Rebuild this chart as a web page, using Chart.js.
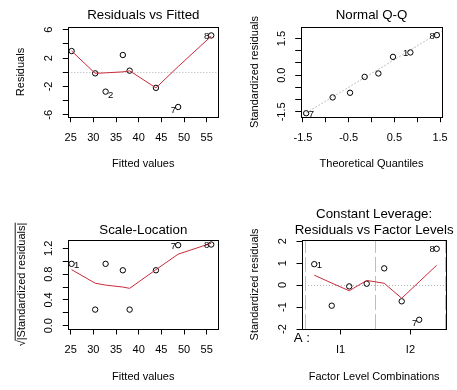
<!DOCTYPE html>
<html><head><meta charset="utf-8">
<script src="https://cdn.jsdelivr.net/npm/chart.js@4.4.0/dist/chart.umd.min.js"></script>
<style>
html,body{margin:0;padding:0;background:#fff;}
#wrap{position:relative;width:457px;height:390px;overflow:hidden;background:#fff;}
canvas{position:absolute;display:block;}
</style></head><body>
<div id="wrap">
<canvas id="c1" width="228" height="195" style="left:0;top:0"></canvas>
<canvas id="c2" width="229" height="195" style="left:228px;top:0"></canvas>
<canvas id="c3" width="228" height="195" style="left:0;top:195px"></canvas>
<canvas id="c4" width="229" height="195" style="left:228px;top:195px"></canvas>
</div>
<script>
// ---------- data ----------
const obsIds = ['1','2','3','4','5','6','7','8'];
const fittedValues = [25.2, 32.7, 30.4, 38.0, 36.5, 43.8, 48.7, 56.0];
const residualValues = [3.0, -2.73, -0.15, 0.23, 2.44, -2.2, -4.9, 5.2];
const theoreticalQuantiles = [0.85, -0.85, -0.15, 0.15, 0.47, -0.47, -1.43, 1.43];
const stdResiduals = [0.93, -0.91, -0.07, 0.07, 0.75, -0.72, -1.56, 1.64];
const sqrtAbsStdResiduals = [0.96, 0.96, 0.25, 0.25, 0.86, 0.86, 1.25, 1.26];
const factorPositions = [1, 2, 3, 4, 5, 6, 7, 8];
const factorStdResiduals = [0.95, -0.94, -0.06, 0.06, 0.76, -0.74, -1.58, 1.65];

const smoothFitted = [25.2, 30.4, 32.7, 36.5, 38.0, 43.8, 48.7, 56.0];
const smoothResiduals = [3.0, -0.15, -0.08, 0.06, 0.2, -2.2, 0.8, 5.1];
const smoothSqrtStd = [0.87, 0.66, 0.63, 0.60, 0.58, 0.87, 1.11, 1.28];
const smoothFactorPositions = [1, 2, 3, 4, 5, 6, 7, 8];
const smoothFactorResiduals = [0.45, 0.09, -0.26, 0.21, 0.08, -0.6, 0.15, 0.9];

const qqLineIntercept = 0.07;
const qqLineSlope = 1.13;

// ---------- axes ----------
const fittedTicks = [25, 30, 35, 40, 45, 50, 55];
const fittedTickLabels = ['25', '30', '35', '40', '45', '50', '55'];
const residTicks = [-6, -4, -2, 0, 2, 4, 6];
const residTickLabels = ['-6', '', '-2', '', '2', '', '6'];
const qqXTicks = [-1.5, -1, -0.5, 0, 0.5, 1, 1.5];
const qqXTickLabels = ['-1.5', '', '-0.5', '', '0.5', '', '1.5'];
const qqYTicks = [-1.5, -1, -0.5, 0, 0.5, 1, 1.5];
const qqYTickLabels = ['-1.5', '', '', '0.0', '', '', '1.5'];
const slTicks = [0, 0.2, 0.4, 0.6, 0.8, 1.0, 1.2];
const slTickLabels = ['0.0', '', '0.4', '', '0.8', '', '1.2'];
const levelTicks = [2.5, 6.5];
const levelTickLabels = ['I1', 'I2'];
const levelBoundaries = [0.5, 4.5, 8.5];
const lvYTicks = [-2, -1, 0, 1, 2];
const lvYTickLabels = ['-2', '-1', '0', '1', '2'];

const FONT = "'Liberation Sans', Arial, Helvetica, sans-serif";
const RED = '#C92A3C';

function panel(cfg) {
  const A = cfg.area;
  const pts = cfg.px.map((x, i) => ({x: x, y: cfg.py[i]}));
  const sm = cfg.sx.map((x, i) => ({x: x, y: cfg.sy[i]}));
  const plugin = {
    id: 'rstyle_' + cfg.id,
    beforeDatasetsDraw(chart) {
      const ctx = chart.ctx, ca = chart.chartArea, xs = chart.scales.x, ys = chart.scales.y;
      ctx.save();
      ctx.beginPath(); ctx.rect(ca.left, ca.top, ca.right - ca.left, ca.bottom - ca.top); ctx.clip();
      ctx.lineWidth = 1;
      (cfg.hLines || []).forEach(h => {
        const py = Math.round(ys.getPixelForValue(h.v)) + 0.5;
        ctx.strokeStyle = h.color; ctx.setLineDash(h.dash);
        ctx.beginPath(); ctx.moveTo(ca.left, py); ctx.lineTo(ca.right, py); ctx.stroke();
      });
      (cfg.vLines || []).forEach(h => {
        const px = Math.round(xs.getPixelForValue(h.v)) + 0.5;
        ctx.strokeStyle = h.color; ctx.setLineDash(h.dash);
        ctx.beginPath(); ctx.moveTo(px, ca.bottom); ctx.lineTo(px, ca.top); ctx.stroke();
      });
      if (cfg.abLine) {
        const ab = cfg.abLine;
        ctx.strokeStyle = ab.color; ctx.setLineDash(ab.dash);
        ctx.beginPath();
        ctx.moveTo(xs.getPixelForValue(xs.min), ys.getPixelForValue(ab.a + ab.b * xs.min));
        ctx.lineTo(xs.getPixelForValue(xs.max), ys.getPixelForValue(ab.a + ab.b * xs.max));
        ctx.stroke();
      }
      ctx.restore();
    },
    afterDraw(chart) {
      const ctx = chart.ctx, ca = chart.chartArea, ys = chart.scales.y;
      ctx.save();
      ctx.strokeStyle = '#000'; ctx.lineWidth = 1; ctx.setLineDash([]);
      const l = Math.round(ca.left), t = Math.round(ca.top), r = Math.round(ca.right), b = Math.round(ca.bottom);
      ctx.strokeRect(l + 0.5, t + 0.5, r - l, b - t);
      // rotated y tick labels (R style)
      ctx.fillStyle = '#000';
      ctx.font = '11px ' + FONT; ctx.textAlign = 'center'; ctx.textBaseline = 'middle';
      cfg.yTicks.forEach((v, i) => {
        const lab = cfg.yTickLabels[i];
        if (!lab) return;
        const py = ys.getPixelForValue(v);
        ctx.save(); ctx.translate(ca.left - 19, py); ctx.rotate(-Math.PI / 2); ctx.fillText(lab, 0, 0); ctx.restore();
      });
      // title
      ctx.font = '13.3px ' + FONT;
      const cx = (ca.left + ca.right) / 2;
      cfg.title.forEach((txt, k) => ctx.fillText(txt, cx, ca.top - cfg.titleGap - (cfg.title.length - 1 - k) * 16.5));
      // point labels
      ctx.font = '9.5px ' + FONT;
      const meta = chart.getDatasetMeta(0);
      cfg.labels.forEach(lb => {
        const el = meta.data[lb.i];
        ctx.textAlign = lb.side === 'right' ? 'left' : 'right';
        ctx.fillText(obsIds[lb.i], el.x + (lb.side === 'right' ? 2.5 : -2), el.y + lb.dy);
      });
      if (cfg.extra) cfg.extra(chart);
      ctx.restore();
    }
  };
  const axisFont = {family: FONT, size: 11};
  new Chart(document.getElementById(cfg.id), {
    type: 'scatter',
    data: {datasets: [
      {data: pts, showLine: false, pointStyle: 'circle', pointRadius: 2.7, pointHoverRadius: 2.7,
       pointBorderColor: '#000', pointBackgroundColor: 'rgba(0,0,0,0)', pointBorderWidth: 1, order: 2},
      {data: sm, showLine: true, borderColor: RED, borderWidth: 1, pointRadius: 0, tension: 0, fill: false, order: 1}
    ]},
    options: {
      responsive: false, animation: false, devicePixelRatio: 1, events: [],
      layout: {padding: {left: 0, top: A.t, right: cfg.W - A.r, bottom: 0}},
      plugins: {legend: {display: false}, tooltip: {enabled: false}, title: {display: false}},
      scales: {
        x: {
          type: 'linear', position: 'bottom', min: cfg.xMin, max: cfg.xMax,
          afterBuildTicks: s => { s.ticks = cfg.xTicks.map(v => ({value: v})); },
          afterFit: s => { s.height = cfg.H - A.b; },
          ticks: {autoSkip: false, maxRotation: 0, minRotation: 0, padding: 9.2, color: '#000', font: axisFont,
                  callback: (v, i) => cfg.xTickLabels[i]},
          grid: {display: true, drawOnChartArea: false, drawTicks: true, tickLength: 5.5, color: '#000', lineWidth: 1},
          border: {display: false},
          title: {display: true, text: cfg.xTitle, color: '#000', font: axisFont, padding: {top: 0, bottom: cfg.xTitlePad}}
        },
        y: {
          type: 'linear', position: 'left', min: cfg.yMin, max: cfg.yMax,
          afterBuildTicks: s => { s.ticks = cfg.yTicks.map(v => ({value: v})); },
          afterFit: s => { s.width = A.l; },
          ticks: {display: false},
          grid: {display: true, drawOnChartArea: false, drawTicks: true, tickLength: 5.5, color: '#000', lineWidth: 1},
          border: {display: false},
          title: {display: !!cfg.yTitle, text: cfg.yTitle || '', color: '#000', font: axisFont, padding: {top: cfg.yTitlePad || 0, bottom: 0}}
        }
      }
    },
    plugins: [plugin]
  });
}

panel({
  id: 'c1', W: 228, H: 195, area: {l: 68.3, t: 27.3, r: 218.3, b: 116.7},
  xMin: 24.47, xMax: 57.56, yMin: -6.27, yMax: 6.35,
  xTicks: fittedTicks, xTickLabels: fittedTickLabels, yTicks: residTicks, yTickLabels: residTickLabels,
  px: fittedValues, py: residualValues, sx: smoothFitted, sy: smoothResiduals,
  title: ['Residuals vs Fitted'], titleGap: 11.8, xTitle: 'Fitted values', yTitle: 'Residuals', yTitlePad: 14.1, xTitlePad: 24.1,
  hLines: [{v: 0, color: '#B4B4B4', dash: [1, 2]}],
  labels: [{i: 1, side: 'right', dy: 3.5}, {i: 6, side: 'left', dy: 3.5}, {i: 7, side: 'left', dy: 0.5}]
});

panel({
  id: 'c2', W: 229, H: 195, area: {l: 72.7, t: 27.3, r: 224.5, b: 116.7},
  xMin: -1.549, xMax: 1.549, yMin: -1.70, yMax: 1.96,
  xTicks: qqXTicks, xTickLabels: qqXTickLabels, yTicks: qqYTicks, yTickLabels: qqYTickLabels,
  px: theoreticalQuantiles, py: stdResiduals, sx: [], sy: [],
  title: ['Normal Q-Q'], titleGap: 11.8, xTitle: 'Theoretical Quantiles', yTitle: 'Standardized residuals', yTitlePad: 20.7, xTitlePad: 24.1,
  abLine: {a: qqLineIntercept, b: qqLineSlope, color: '#7F7F7F', dash: [1, 2.5]},
  labels: [{i: 6, side: 'right', dy: 1}, {i: 0, side: 'left', dy: 1}, {i: 7, side: 'left', dy: 1}]
});

panel({
  id: 'c3', W: 228, H: 195, area: {l: 68.3, t: 45, r: 218.3, b: 134},
  xMin: 24.47, xMax: 57.56, yMin: -0.051, yMax: 1.33,
  xTicks: fittedTicks, xTickLabels: fittedTickLabels, yTicks: slTicks, yTickLabels: slTickLabels,
  px: fittedValues, py: sqrtAbsStdResiduals, sx: smoothFitted, sy: smoothSqrtStd,
  title: ['Scale-Location'], titleGap: 9.5, xTitle: 'Fitted values', yTitle: '', xTitlePad: 6.8,
  labels: [{i: 0, side: 'right', dy: 1.5}, {i: 6, side: 'left', dy: 1}, {i: 7, side: 'left', dy: 1}],
  extra(chart) {
    const ctx = chart.ctx, ca = chart.chartArea;
    ctx.save();
    ctx.font = '11px ' + FONT; ctx.fillStyle = '#000'; ctx.strokeStyle = '#000';
    const s = '\u221A', t = '|Standardized residuals|';
    const ws = ctx.measureText(s).width, wt = ctx.measureText(t).width, tot = ws + wt;
    ctx.translate(22, (ca.top + ca.bottom) / 2); ctx.rotate(-Math.PI / 2);
    ctx.textAlign = 'left'; ctx.textBaseline = 'middle';
    ctx.fillText(s, -tot / 2, 0);
    ctx.fillText(t, -tot / 2 + ws, 0);
    ctx.lineWidth = 0.9;
    ctx.beginPath(); ctx.moveTo(-tot / 2 + ws - 0.5, -6.8); ctx.lineTo(tot / 2, -6.8); ctx.stroke();
    ctx.restore();
  }
});

panel({
  id: 'c4', W: 229, H: 195, area: {l: 74, t: 45, r: 218.3, b: 134},
  xMin: 0.3, xMax: 8.55, yMin: -2.0, yMax: 2.05,
  xTicks: levelTicks, xTickLabels: levelTickLabels, yTicks: lvYTicks, yTickLabels: lvYTickLabels,
  px: factorPositions, py: factorStdResiduals, sx: smoothFactorPositions, sy: smoothFactorResiduals,
  title: ['Constant Leverage:', 'Residuals vs Factor Levels'], titleGap: 9.5, xTitle: 'Factor Level Combinations',
  yTitle: 'Standardized residuals', yTitlePad: 20.1, xTitlePad: 6.8,
  hLines: [{v: 0, color: '#B4B4B4', dash: [1, 2]}],
  vLines: levelBoundaries.map(v => ({v: v, color: '#BEBEBE', dash: [15, 4]})),
  labels: [{i: 0, side: 'right', dy: 1.5}, {i: 6, side: 'left', dy: 3.5}, {i: 7, side: 'left', dy: 1}],
  extra(chart) {
    const ctx = chart.ctx, ca = chart.chartArea;
    ctx.save();
    ctx.font = '13.3px ' + FONT; ctx.fillStyle = '#000';
    ctx.textAlign = 'right'; ctx.textBaseline = 'middle';
    ctx.fillText('A :', ca.left + 8, ca.bottom + 9);
    ctx.restore();
  }
});
</script>
</body></html>
